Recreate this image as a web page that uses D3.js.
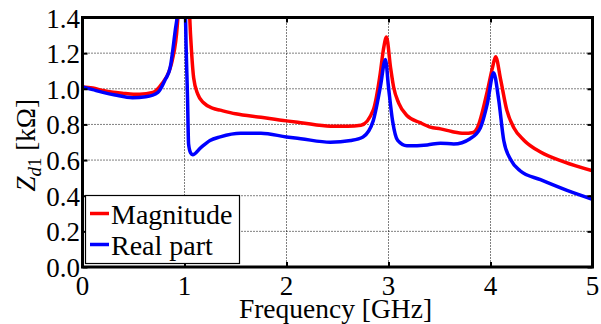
<!DOCTYPE html>
<html>
<head>
    <meta charset="UTF-8">
    <script src="https://d3js.org/d3.v7.min.js"></script>
    <style>
        body { margin: 0; background: #fff; }
        svg text, svg tspan { font-family: "Liberation Serif" !important; }
        .grid line { stroke: #000; stroke-width: 1; stroke-dasharray: 1,2; }
        .curve { fill: none; stroke-width: 3.5; stroke-linejoin: round; }
    </style>
</head>
<body>
<svg width="601" height="324" style='font-family: "Liberation Serif"'></svg>
<script>
    // Magnitude of Zd1 (kOhm)
    const magFreq = [0, 0.1, 0.2, 0.3, 0.39, 0.5, 0.56, 0.69, 0.78, 0.85, 0.88, 0.93, 0.96, 1.0, 1.04, 1.05, 1.07, 1.09, 1.13, 1.19,
        1.28, 1.35, 1.5, 1.75, 2.0, 2.14, 2.43, 2.6, 2.73, 2.85, 2.92, 2.95, 2.98, 3.02, 3.05, 3.10, 3.18, 3.31, 3.41, 3.51,
        3.62, 3.74, 3.83, 3.87, 3.97, 4.02, 4.05, 4.10, 4.16, 4.23, 4.33, 4.49, 4.72, 5.0];
    const magValues = [1.01, 1.005, 0.99, 0.98, 0.975, 0.97, 0.97, 0.98, 1.03, 1.10, 1.16, 1.36, 1.7, 3.0, 1.6, 1.42, 1.2, 1.06, 0.97, 0.92,
        0.89, 0.88, 0.86, 0.84, 0.82, 0.81, 0.79, 0.79, 0.795, 0.88, 1.09, 1.22, 1.29, 1.12, 1.01, 0.92, 0.85, 0.81, 0.785, 0.775,
        0.76, 0.75, 0.755, 0.78, 0.99, 1.12, 1.18, 1.05, 0.88, 0.78, 0.71, 0.645, 0.59, 0.54];

    // Real part of Zd1 (kOhm)
    const realFreq = [0, 0.1, 0.2, 0.32, 0.49, 0.62, 0.74, 0.81, 0.86, 0.91, 0.93, 0.96, 0.98, 1.0, 1.01, 1.03, 1.04, 1.06, 1.08, 1.16,
        1.25, 1.35, 1.55, 1.75, 2.0, 2.14, 2.43, 2.63, 2.75, 2.85, 2.92, 2.97, 3.0, 3.04, 3.09, 3.18, 3.38, 3.51, 3.64, 3.8,
        3.9, 3.97, 4.03, 4.08, 4.13, 4.2, 4.29, 4.49, 4.75, 5.0];
    const realValues = [1.01, 0.995, 0.98, 0.965, 0.95, 0.955, 0.98, 1.05, 1.12, 1.33, 1.42, 1.8, 2.5, 1.8, 1.4, 0.94, 0.69, 0.64, 0.63, 0.67,
        0.71, 0.73, 0.75, 0.75, 0.73, 0.72, 0.70, 0.71, 0.73, 0.82, 1.01, 1.165, 1.01, 0.82, 0.71, 0.68, 0.685, 0.695, 0.69, 0.72,
        0.78, 0.92, 1.09, 0.94, 0.71, 0.60, 0.54, 0.49, 0.43, 0.38];

    const xTicks = [0, 1, 2, 3, 4, 5];
    const yTicks = [0, 0.2, 0.4, 0.6, 0.8, 1.0, 1.2, 1.4];
    const seriesNames = ["Magnitude", "Real part"];
    const seriesColors = ["#ff0000", "#0000ff"];

    const svg = d3.select("svg");
    const plotL = 82.5, plotR = 592.5, plotT = 17.5, plotB = 267;
    const face = '"Liberation Serif"';

    const x = d3.scaleLinear().domain([0, 5]).range([plotL, plotR]);
    const y = d3.scaleLinear().domain([0, 1.4]).range([plotB, plotT]);

    // dotted grid
    const grid = svg.append("g").attr("class", "grid");
    grid.selectAll(".gx").data(xTicks.slice(1, -1)).enter().append("line")
        .attr("x1", d => x(d)).attr("x2", d => x(d))
        .attr("y1", plotT).attr("y2", plotB);
    grid.selectAll(".gy").data(yTicks.slice(1, -1)).enter().append("line")
        .attr("x1", plotL).attr("x2", plotR)
        .attr("y1", d => y(d)).attr("y2", d => y(d));

    // curves, clipped to the plot box
    svg.append("clipPath").attr("id", "plotclip")
        .append("rect").attr("x", plotL).attr("y", plotT)
        .attr("width", plotR - plotL).attr("height", plotB - plotT);

    const line = d3.line()
        .x(d => x(d[0])).y(d => y(d[1]))
        .curve(d3.curveMonotoneX);

    const series = [
        d3.zip(magFreq, magValues),
        d3.zip(realFreq, realValues)
    ];
    svg.append("g").attr("clip-path", "url(#plotclip)")
        .selectAll("path").data(series).enter().append("path")
        .attr("class", "curve")
        .attr("stroke", (d, i) => seriesColors[i])
        .attr("d", line);

    // inward ticks on all four sides (tick marks only, labels drawn separately)
    const tickLen = 5;
    svg.append("g").attr("transform", `translate(0,${plotB})`)
        .call(d3.axisBottom(x).tickValues(xTicks).tickSize(-tickLen).tickFormat(""));
    svg.append("g").attr("transform", `translate(0,${plotT})`)
        .call(d3.axisTop(x).tickValues(xTicks).tickSize(-tickLen).tickFormat(""));
    svg.append("g").attr("transform", `translate(${plotL},0)`)
        .call(d3.axisLeft(y).tickValues(yTicks).tickSize(-tickLen).tickFormat(""));
    svg.append("g").attr("transform", `translate(${plotR},0)`)
        .call(d3.axisRight(y).tickValues(yTicks).tickSize(-tickLen).tickFormat(""));
    svg.selectAll(".domain").remove();
    svg.selectAll(".tick text").remove();
    svg.selectAll(".tick line").attr("stroke", "#000").attr("stroke-width", 2);

    // frame
    svg.append("rect")
        .attr("x", plotL).attr("y", plotT)
        .attr("width", plotR - plotL).attr("height", plotB - plotT)
        .attr("fill", "none").attr("stroke", "#000").attr("stroke-width", 3);

    // tick labels
    svg.append("g").selectAll("text").data(xTicks).enter().append("text")
        .style("font-family", face)
        .attr("x", d => x(d)).attr("y", 295)
        .attr("text-anchor", "middle").attr("font-size", 27)
        .text(d => d);
    svg.append("g").selectAll("text").data(yTicks).enter().append("text")
        .style("font-family", face)
        .attr("x", 80).attr("y", d => y(d) + 10)
        .attr("text-anchor", "end").attr("font-size", 27)
        .text(d3.format(".1f"));

    // axis titles
    svg.append("text")
        .style("font-family", face)
        .attr("x", (plotL + plotR) / 2 - 2).attr("y", 318)
        .attr("text-anchor", "middle").attr("font-size", 27.5)
        .text("Frequency [GHz]");

    const ylab = svg.append("text")
        .style("font-family", face)
        .attr("transform", `translate(35,${(plotT + plotB) / 2 + 3}) rotate(-90)`)
        .attr("text-anchor", "middle").attr("font-size", 27);
    ylab.append("tspan").style("font-style", "italic").text("Z");
    ylab.append("tspan").style("font-style", "italic").attr("font-size", 19).attr("dy", 6).text("d");
    ylab.append("tspan").attr("font-size", 19).text("1");
    ylab.append("tspan").attr("dy", -6).text(" [kΩ]");

    // legend
    const legend = svg.append("g");
    legend.append("rect")
        .attr("x", 85.5).attr("y", 195.5).attr("width", 154).attr("height", 68)
        .attr("fill", "#fff").attr("stroke", "#000").attr("stroke-width", 1.2);
    const rows = legend.selectAll(".row").data(seriesNames).enter().append("g")
        .attr("transform", (d, i) => `translate(0,${213.5 + i * 31})`);
    rows.append("line")
        .attr("x1", 90).attr("x2", 109).attr("y1", 0).attr("y2", 0)
        .attr("stroke", (d, i) => seriesColors[i]).attr("stroke-width", 3.5);
    rows.append("text")
        .style("font-family", face)
        .attr("x", 111).attr("y", 10.5).attr("font-size", 28)
        .text(d => d);
</script>
</body>
</html>
